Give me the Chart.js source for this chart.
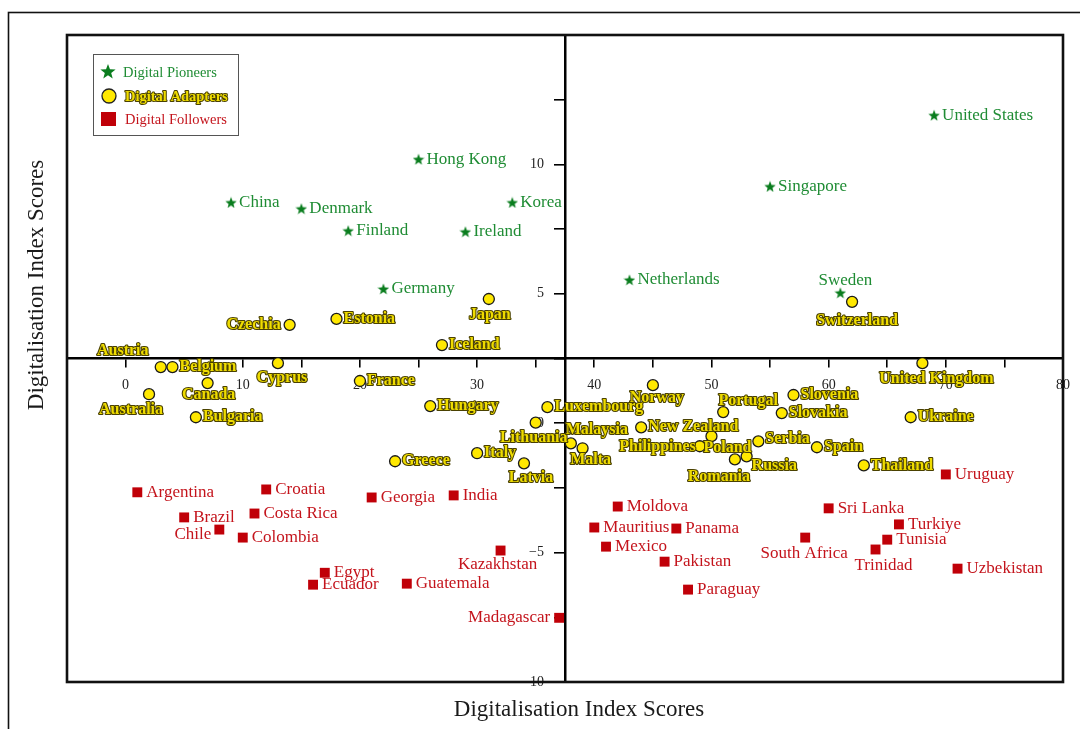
<!DOCTYPE html>
<html>
<head>
<meta charset="utf-8">
<script src="https://cdn.jsdelivr.net/npm/chart.js@4.4.1/dist/chart.umd.min.js"></script>
<style>
  html, body { margin: 0; padding: 0; background: #ffffff; }
  canvas { display: block; }
</style>
</head>
<body>
<canvas id="chart" width="1080" height="729"></canvas>
<script>
// ---- Data: digitalisation index scores by country group ----
const pioneerNames = ['United States', 'Hong Kong', 'Singapore', 'China', 'Denmark', 'Korea',
  'Finland', 'Ireland', 'Germany', 'Netherlands', 'Sweden'];
const pioneerX = [69, 25, 55, 9, 15, 33, 19, 29, 22, 43, 61];
const pioneerY = [11.9, 10.2, 9.15, 8.53, 8.29, 8.53, 7.44, 7.4, 5.19, 5.54, 5.04];

const adapterNames = ['Switzerland', 'Japan', 'Czechia', 'Estonia', 'Iceland', 'Austria', 'Belgium',
  'Cyprus', 'Canada', 'Australia', 'Bulgaria', 'France', 'Hungary', 'Luxembourg', 'Lithuania',
  'Malaysia', 'Malta', 'Italy', 'Latvia', 'Greece', 'Norway', 'New Zealand', 'Philippines', 'Poland',
  'Portugal', 'Slovenia', 'Slovakia', 'Serbia', 'Spain', 'Romania', 'Russia', 'Thailand',
  'United Kingdom', 'Ukraine'];
const adapterX = [62, 31, 14, 18, 27, 3, 4, 13, 7, 2, 6, 20, 26, 36, 35, 38, 39, 30, 34, 23, 45, 44,
  49, 50, 51, 57, 56, 54, 59, 52, 53, 63, 68, 67];
const adapterY = [4.69, 4.8, 3.8, 4.03, 3.02, 2.17, 2.17, 2.32, 1.55, 1.12, 0.23, 1.63, 0.66, 0.62,
  0.02, -0.78, -0.97, -1.16, -1.55, -1.47, 1.47, -0.16, -0.89, -0.5, 0.43, 1.09, 0.39, -0.7, -0.93,
  -1.4, -1.28, -1.63, 2.32, 0.23];

const followerNames = ['Argentina', 'Croatia', 'Brazil', 'Costa Rica', 'Chile', 'Colombia', 'Egypt',
  'Ecuador', 'Georgia', 'India', 'Kazakhstan', 'Guatemala', 'Madagascar', 'Moldova', 'Mauritius',
  'Panama', 'Mexico', 'Pakistan', 'Paraguay', 'Uruguay', 'Sri Lanka', 'Turkiye', 'Tunisia',
  'South Africa', 'Trinidad', 'Uzbekistan'];
const followerX = [1, 12, 5, 11, 8, 10, 17, 16, 21, 28, 32, 24, 37, 42, 40, 47, 41, 46, 48, 70, 60,
  66, 65, 58, 64, 71];
const followerY = [-2.67, -2.56, -3.64, -3.49, -4.11, -4.42, -5.78, -6.24, -2.87, -2.79, -4.92, -6.2,
  -7.52, -3.22, -4.03, -4.07, -4.77, -5.35, -6.43, -1.98, -3.29, -3.91, -4.5, -4.42, -4.88, -5.62];

const groupNames = ['Digital Pioneers', 'Digital Adapters', 'Digital Followers'];

// Quadrant crossing point of the two axes
const crossX = 37.5;
const crossY = 2.5;

// ---- Styling ----
const SERIF = '"Liberation Serif", "Times New Roman", serif';
const GREEN = '#0a7d1e';
const GREEN_TEXT = '#1f8c34';
const RED = '#c00008';
const RED_TEXT = '#c4141c';
const YELLOW = '#ffe800';
const YELLOW_TEXT = '#efdc00';
const YELLOW_EDGE = '#4a4100';

// Label placement around a marker: [textAlign, dx, dy]; default is to the right.
const labelPlacement = {
  'Sweden': ['center', 5, -12],
  'Switzerland': ['center', 5, 19],
  'Japan': ['center', 1, 16],
  'Czechia': ['right', -9, 0],
  'Austria': ['center', -38, -16],
  'Cyprus': ['center', 4, 15],
  'Canada': ['center', 1, 12],
  'Australia': ['center', -18, 16],
  'Lithuania': ['center', -2, 15],
  'Malaysia': ['center', 26, -14],
  'Malta': ['center', 8, 12],
  'Latvia': ['center', 7, 15],
  'Norway': ['center', 4, 13],
  'Philippines': ['right', -4, 1],
  'Poland': ['center', 16, 12],
  'Portugal': ['center', 25, -11],
  'Serbia': ['left', 7, -2],
  'Romania': ['center', -16, 17],
  'Russia': ['left', 5, 10],
  'United Kingdom': ['center', 14, 16],
  'Chile': ['right', -8, 5],
  'Kazakhstan': ['center', -3, 14],
  'Madagascar': ['right', -9, 0],
  'South Africa': ['center', -1, 16],
  'Trinidad': ['center', 8, 16]
};

function starPath(g, cx, cy, r) {
  const ri = r * 0.42;
  g.beginPath();
  for (let k = 0; k < 10; k++) {
    const rr = k % 2 ? ri : r;
    const a = -Math.PI / 2 + k * Math.PI / 5;
    g.lineTo(cx + rr * Math.cos(a), cy + rr * Math.sin(a));
  }
  g.closePath();
}

function starImage(size, color) {
  const c = document.createElement('canvas');
  c.width = size; c.height = size;
  const g = c.getContext('2d');
  g.fillStyle = color;
  starPath(g, size / 2, size / 2 + size * 0.05, size / 2);
  g.fill();
  return c;
}

function toPoints(xs, ys) {
  return xs.map((x, i) => ({ x: x, y: ys[i] }));
}

// ---- Text labels next to each country marker ----
const countryLabels = {
  id: 'countryLabels',
  afterDatasetsDraw(chart) {
    const ctx = chart.ctx;
    ctx.save();
    chart.data.datasets.forEach((ds, di) => {
      const meta = chart.getDatasetMeta(di);
      meta.data.forEach((pt, i) => {
        const name = ds.countries[i];
        const defaultGap = di === 0 ? 8 : (di === 1 ? 7 : 9);
        const place = labelPlacement[name] || ['left', defaultGap, 0];
        const tx = pt.x + place[1];
        const ty = pt.y + place[2];
        ctx.textAlign = place[0];
        ctx.textBaseline = 'middle';
        if (di === 1) {
          ctx.font = 'bold 16px ' + SERIF;
          ctx.lineJoin = 'round';
          ctx.lineWidth = 2.2;
          ctx.strokeStyle = YELLOW_EDGE;
          ctx.strokeText(name, tx, ty);
          ctx.fillStyle = YELLOW_TEXT;
          ctx.fillText(name, tx, ty);
        } else {
          ctx.font = '17px ' + SERIF;
          ctx.fillStyle = di === 0 ? GREEN_TEXT : RED_TEXT;
          ctx.fillText(name, tx, ty);
        }
      });
    });
    ctx.restore();
  }
};

// ---- Frames, legend box and axis titles ----
const decorations = {
  id: 'decorations',
  afterDraw(chart) {
    const ctx = chart.ctx;
    const a = chart.chartArea;
    ctx.save();
    // outer figure frame
    ctx.strokeStyle = '#111';
    ctx.lineWidth = 1.6;
    ctx.strokeRect(8.5, 12.5, 1300, 900);
    // plot frame
    ctx.lineWidth = 2.6;
    ctx.strokeRect(a.left, a.top, a.right - a.left, a.bottom - a.top);

    // legend
    const lx = 93.5, ly = 54.5;
    ctx.lineWidth = 1;
    ctx.strokeStyle = '#555';
    ctx.fillStyle = '#fff';
    ctx.fillRect(lx, ly, 145, 81);
    ctx.strokeRect(lx, ly, 145, 81);
    ctx.fillStyle = GREEN;
    starPath(ctx, 108, 72, 8);
    ctx.fill();
    ctx.beginPath();
    ctx.arc(109, 96, 7, 0, Math.PI * 2);
    ctx.fillStyle = YELLOW;
    ctx.fill();
    ctx.lineWidth = 1.3;
    ctx.strokeStyle = '#222';
    ctx.stroke();
    ctx.fillStyle = RED;
    ctx.fillRect(101, 112, 15, 14);

    ctx.textAlign = 'left';
    ctx.textBaseline = 'middle';
    ctx.font = '14.5px ' + SERIF;
    ctx.fillStyle = GREEN_TEXT;
    ctx.fillText(groupNames[0], 123, 73);
    ctx.font = 'bold 14.5px ' + SERIF;
    ctx.lineJoin = 'round';
    ctx.lineWidth = 2;
    ctx.strokeStyle = YELLOW_EDGE;
    ctx.strokeText(groupNames[1], 125, 97);
    ctx.fillStyle = YELLOW_TEXT;
    ctx.fillText(groupNames[1], 125, 97);
    ctx.font = '14.5px ' + SERIF;
    ctx.fillStyle = RED_TEXT;
    ctx.fillText(groupNames[2], 125, 120);

    // axis titles
    ctx.fillStyle = '#1a1a1a';
    ctx.font = '23px ' + SERIF;
    ctx.textAlign = 'center';
    ctx.textBaseline = 'middle';
    ctx.fillText('Digitalisation Index Scores', 579, 710);
    ctx.translate(37, 285);
    ctx.rotate(-Math.PI / 2);
    ctx.fillText('Digitalisation Index Scores', 0, 0);
    ctx.restore();
  }
};

const tickFont = { family: SERIF, size: 14 };
// right-aligned y labels sit on the crossing axis; trailing em + en space keeps them clear of the ticks
const Y_LABEL_GAP = '\u2003\u2002';

new Chart(document.getElementById('chart'), {
  type: 'scatter',
  data: {
    datasets: [
      {
        label: groupNames[0],
        countries: pioneerNames,
        data: toPoints(pioneerX, pioneerY),
        pointStyle: starImage(12, GREEN),
        pointRadius: 6
      },
      {
        label: groupNames[1],
        countries: adapterNames,
        data: toPoints(adapterX, adapterY),
        pointStyle: 'circle',
        pointRadius: 5.5,
        backgroundColor: YELLOW,
        borderColor: '#1a1a1a',
        borderWidth: 1.3
      },
      {
        label: groupNames[2],
        countries: followerNames,
        data: toPoints(followerX, followerY),
        pointStyle: 'rect',
        pointRadius: 7,
        backgroundColor: RED,
        borderColor: RED,
        borderWidth: 0
      }
    ]
  },
  options: {
    responsive: false,
    devicePixelRatio: 1,
    animation: false,
    events: [],
    layout: { padding: { left: 67, top: 35, right: 15, bottom: 47 } },
    plugins: {
      legend: { display: false },
      tooltip: { enabled: false },
      title: { display: false }
    },
    scales: {
      x: {
        type: 'linear',
        min: -5,
        max: 80,
        position: { y: crossY },
        border: { display: true, color: '#000', width: 2.5 },
        grid: { drawOnChartArea: false, drawTicks: true, tickLength: 8, color: '#000', lineWidth: 1.6 },
        ticks: {
          stepSize: 5,
          autoSkip: false,
          maxRotation: 0,
          padding: 10,
          color: '#222',
          font: tickFont,
          callback: v => (v % 10 === 0 ? String(v) : '')
        }
      },
      y: {
        type: 'linear',
        min: -10,
        max: 15,
        position: { x: crossX },
        border: { display: true, color: '#000', width: 2.5 },
        grid: { drawOnChartArea: false, drawTicks: true, tickLength: 10, color: '#000', lineWidth: 1.6 },
        ticks: {
          stepSize: 2.5,
          autoSkip: false,
          padding: 6,
          color: '#222',
          font: tickFont,
          callback: v => (v % 5 === 0 && v !== 15 ? String(v).replace('-', '\u2212') + Y_LABEL_GAP : '')
        }
      }
    }
  },
  plugins: [countryLabels, decorations]
});
</script>
</body>
</html>
